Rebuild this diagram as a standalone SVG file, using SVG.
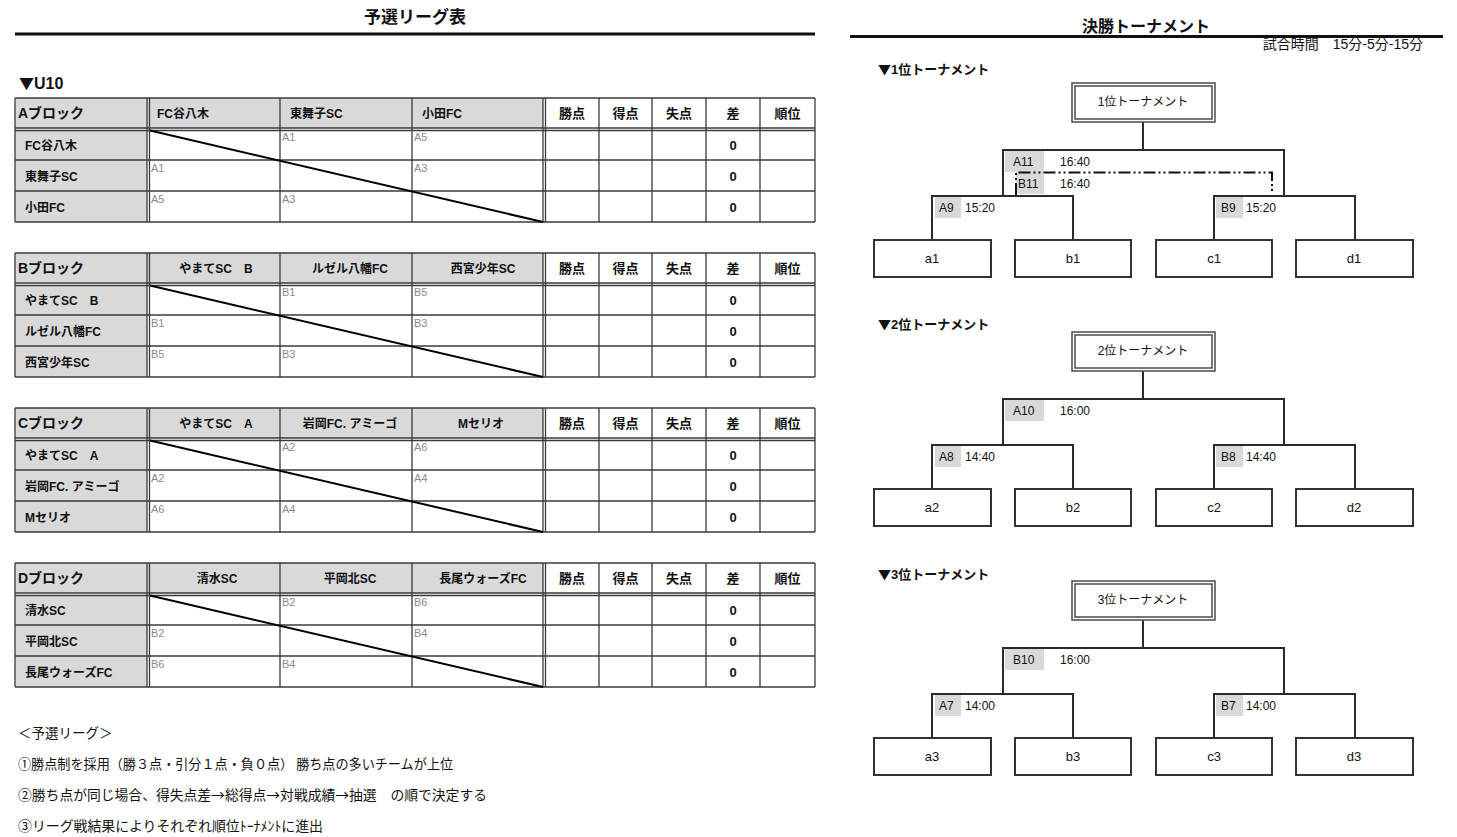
<svg xmlns="http://www.w3.org/2000/svg" xmlns:xlink="http://www.w3.org/1999/xlink" width="1457" height="837" viewBox="0 0 1457 837">
<style>
text{font-family:"Liberation Sans","Noto Sans CJK JP",sans-serif;fill:#111}
.cjk{font-family:"Noto Sans CJK JP","Liberation Sans",sans-serif}
.ttl{font-size:17px;font-weight:bold}
.blk{font-size:14px;font-weight:bold}
.tm{font-size:12px;font-weight:bold}
.tmc{font-size:12px;font-weight:bold;text-anchor:middle}
.rl{font-size:12px;font-weight:bold}
.st{font-size:13px;font-weight:bold;text-anchor:middle}
.z{font-size:13px;font-weight:bold;text-anchor:middle}
.cl{font-size:11px;fill:#8a8a8a}
.note{font-size:13.5px;font-family:"Noto Sans CJK JP","Liberation Sans",sans-serif}
.sec{font-size:13px;font-weight:bold}
.tb{font-size:12px;text-anchor:middle}
.lf{font-size:13px;text-anchor:middle}
.gl{font-size:12px}
.tg{fill:#d9d9d9}
.grid line{stroke:#3a3a3a;stroke-width:1.3}
.leaf{fill:#fff;stroke:#333;stroke-width:2}
.conn path{fill:none;stroke:#2a2a2a;stroke-width:2}
.dash{fill:none;stroke:#111;stroke-width:2;stroke-dasharray:12 3 2 3 2 3}
</style>
<defs>
<g id="grid" class="grid">
<rect class="tg" x="15" y="0" width="528" height="30"/>
<rect class="tg" x="15" y="32.5" width="132" height="91.5"/>
<line x1="15" y1="0" x2="815" y2="0"/>
<line x1="15" y1="30" x2="815" y2="30"/>
<line x1="15" y1="32.5" x2="815" y2="32.5"/>
<line x1="15" y1="62" x2="815" y2="62"/>
<line x1="15" y1="93" x2="815" y2="93"/>
<line x1="15" y1="124" x2="815" y2="124"/>
<line x1="15" y1="0" x2="15" y2="124"/>
<line x1="147" y1="0" x2="147" y2="124"/>
<line x1="149.5" y1="0" x2="149.5" y2="124"/>
<line x1="280" y1="0" x2="280" y2="124"/>
<line x1="412" y1="0" x2="412" y2="124"/>
<line x1="543" y1="0" x2="543" y2="124"/>
<line x1="545.5" y1="0" x2="545.5" y2="124"/>
<line x1="599" y1="0" x2="599" y2="124"/>
<line x1="652" y1="0" x2="652" y2="124"/>
<line x1="706" y1="0" x2="706" y2="124"/>
<line x1="760" y1="0" x2="760" y2="124"/>
<line x1="815" y1="0" x2="815" y2="124"/>
<line x1="150" y1="32.5" x2="543" y2="124" style="stroke:#000;stroke-width:2"/>
<text class="st" x="572" y="20">勝点</text>
<text class="st" x="625.5" y="20">得点</text>
<text class="st" x="679" y="20">失点</text>
<text class="st" x="733" y="20">差</text>
<text class="st" x="787.5" y="20">順位</text>
<text class="z" x="733" y="52">0</text>
<text class="z" x="733" y="83">0</text>
<text class="z" x="733" y="114">0</text>
</g>
<g id="titlebox">
<rect x="1072" y="83" width="143" height="39" fill="#fff" stroke="#555" stroke-width="1.6"/>
<rect x="1075" y="86" width="137" height="33" fill="none" stroke="#555" stroke-width="1.6"/>
</g>
</defs>

<g id="headers">
<text class="ttl" x="415" y="23" text-anchor="middle">予選リーグ表</text>
<line x1="15" y1="34" x2="815" y2="34" stroke="#111" stroke-width="3"/>
<text class="ttl" x="1146" y="32" text-anchor="middle" style="font-size:16px">決勝トーナメント</text>
<line x1="850" y1="36.5" x2="1443" y2="36.5" stroke="#111" stroke-width="3"/>
<text x="1423" y="49" text-anchor="end" style="font-size:14px">試合時間　15分-5分-15分</text>
<text x="19" y="89" style="font-size:16px;font-weight:bold"><tspan class="cjk" style="font-size:15px">▼</tspan>U10</text>
</g>

<g id="blockA" transform="translate(0,98)">
<use xlink:href="#grid"/>
<text class="blk" x="18" y="20">Aブロック</text>
<text class="tm" x="157" y="20">FC谷八木</text>
<text class="tm" x="290" y="20">東舞子SC</text>
<text class="tm" x="422" y="20">小田FC</text>
<text class="rl" x="25" y="52">FC谷八木</text>
<text class="rl" x="25" y="83">東舞子SC</text>
<text class="rl" x="25" y="114">小田FC</text>
<text class="cl" x="282" y="43">A1</text><text class="cl" x="414" y="43">A5</text>
<text class="cl" x="151" y="74">A1</text><text class="cl" x="414" y="74">A3</text>
<text class="cl" x="151" y="105">A5</text><text class="cl" x="282" y="105">A3</text>
</g>

<g id="blockB" transform="translate(0,253)">
<use xlink:href="#grid"/>
<text class="blk" x="18" y="20">Bブロック</text>
<text class="tmc" x="216" y="20">やまてSC　B</text>
<text class="tmc" x="350" y="20">ルゼル八幡FC</text>
<text class="tmc" x="483" y="20">西宮少年SC</text>
<text class="rl" x="25" y="52">やまてSC　B</text>
<text class="rl" x="25" y="83">ルゼル八幡FC</text>
<text class="rl" x="25" y="114">西宮少年SC</text>
<text class="cl" x="282" y="43">B1</text><text class="cl" x="414" y="43">B5</text>
<text class="cl" x="151" y="74">B1</text><text class="cl" x="414" y="74">B3</text>
<text class="cl" x="151" y="105">B5</text><text class="cl" x="282" y="105">B3</text>
</g>

<g id="blockC" transform="translate(0,408)">
<use xlink:href="#grid"/>
<text class="blk" x="18" y="20">Cブロック</text>
<text class="tmc" x="216" y="20">やまてSC　A</text>
<text class="tmc" x="350" y="20">岩岡FC. アミーゴ</text>
<text class="tmc" x="481" y="20">Mセリオ</text>
<text class="rl" x="25" y="52">やまてSC　A</text>
<text class="rl" x="25" y="83">岩岡FC. アミーゴ</text>
<text class="rl" x="25" y="114">Mセリオ</text>
<text class="cl" x="282" y="43">A2</text><text class="cl" x="414" y="43">A6</text>
<text class="cl" x="151" y="74">A2</text><text class="cl" x="414" y="74">A4</text>
<text class="cl" x="151" y="105">A6</text><text class="cl" x="282" y="105">A4</text>
</g>

<g id="blockD" transform="translate(0,563)">
<use xlink:href="#grid"/>
<text class="blk" x="18" y="20">Dブロック</text>
<text class="tmc" x="217" y="20">清水SC</text>
<text class="tmc" x="350" y="20">平岡北SC</text>
<text class="tmc" x="483" y="20">長尾ウォーズFC</text>
<text class="rl" x="25" y="52">清水SC</text>
<text class="rl" x="25" y="83">平岡北SC</text>
<text class="rl" x="25" y="114">長尾ウォーズFC</text>
<text class="cl" x="282" y="43">B2</text><text class="cl" x="414" y="43">B6</text>
<text class="cl" x="151" y="74">B2</text><text class="cl" x="414" y="74">B4</text>
<text class="cl" x="151" y="105">B6</text><text class="cl" x="282" y="105">B4</text>
</g>

<g id="notes">
<text class="note" x="18" y="738">＜予選リーグ＞</text>
<text class="note" x="18" y="769" textLength="435" lengthAdjust="spacingAndGlyphs">①勝点制を採用（勝３点・引分１点・負０点） 勝ち点の多いチームが上位</text>
<text class="note" x="18" y="800" textLength="469" lengthAdjust="spacingAndGlyphs">②勝ち点が同じ場合、得失点差→総得点→対戦成績→抽選　の順で決定する</text>
<text class="note" x="18" y="831" textLength="305" lengthAdjust="spacingAndGlyphs">③リーグ戦結果によりそれぞれ順位ﾄｰﾅﾒﾝﾄに進出</text>
</g>

<!-- Tournament 1 -->
<g id="t1">
<text class="sec" x="878" y="74"><tspan class="cjk">▼</tspan>1位トーナメント</text>
<g id="connectors1" class="conn">
<path d="M1143,122 V150"/>
<path d="M1003,196 V150 H1284 V196"/>
<path d="M932,240 V196 H1073 V240"/>
<path d="M1214,240 V196 H1355 V240"/>
</g>
<g id="t1-title"><use xlink:href="#titlebox"/><text class="tb" x="1143" y="106">1位トーナメント</text></g>
<g id="t1-A11"><rect class="tg" x="1005" y="151" width="39" height="21"/><text class="gl" x="1013" y="166">A11</text><text class="gl" x="1060" y="166">16:40</text></g>
<g id="t1-B11"><rect class="tg" x="1016" y="172" width="28" height="22"/><text class="gl" x="1018" y="188">B11</text><text class="gl" x="1060" y="188">16:40</text></g>
<path class="dash" d="M1016,195 V172.5 H1272 V194"/>
<g id="t1-A9"><rect class="tg" x="935" y="197" width="26" height="21"/><text class="gl" x="939" y="212">A9</text><text class="gl" x="965" y="212">15:20</text></g>
<g id="t1-B9"><rect class="tg" x="1216" y="197" width="27" height="21"/><text class="gl" x="1221" y="212">B9</text><text class="gl" x="1246" y="212">15:20</text></g>
<g id="t1-a1"><rect class="leaf" x="874" y="240" width="117" height="37"/><text class="lf" x="932" y="263">a1</text></g>
<g id="t1-b1"><rect class="leaf" x="1015" y="240" width="116" height="37"/><text class="lf" x="1073" y="263">b1</text></g>
<g id="t1-c1"><rect class="leaf" x="1156" y="240" width="116" height="37"/><text class="lf" x="1214" y="263">c1</text></g>
<g id="t1-d1"><rect class="leaf" x="1296" y="240" width="117" height="37"/><text class="lf" x="1354" y="263">d1</text></g>
</g>

<!-- Tournament 2 -->
<g id="t2" transform="translate(0,249)">
<text class="sec" x="878" y="80"><tspan class="cjk">▼</tspan>2位トーナメント</text>
<g id="connectors2" class="conn">
<path d="M1143,122 V150"/>
<path d="M1003,196 V150 H1284 V196"/>
<path d="M932,240 V196 H1073 V240"/>
<path d="M1214,240 V196 H1355 V240"/>
</g>
<g id="t2-title"><use xlink:href="#titlebox"/><text class="tb" x="1143" y="106">2位トーナメント</text></g>
<g id="t2-A10"><rect class="tg" x="1005" y="151" width="39" height="21"/><text class="gl" x="1013" y="166">A10</text><text class="gl" x="1060" y="166">16:00</text></g>
<g id="t2-A8"><rect class="tg" x="935" y="197" width="26" height="21"/><text class="gl" x="939" y="212">A8</text><text class="gl" x="965" y="212">14:40</text></g>
<g id="t2-B8"><rect class="tg" x="1216" y="197" width="27" height="21"/><text class="gl" x="1221" y="212">B8</text><text class="gl" x="1246" y="212">14:40</text></g>
<g id="t2-a2"><rect class="leaf" x="874" y="240" width="117" height="37"/><text class="lf" x="932" y="263">a2</text></g>
<g id="t2-b2"><rect class="leaf" x="1015" y="240" width="116" height="37"/><text class="lf" x="1073" y="263">b2</text></g>
<g id="t2-c2"><rect class="leaf" x="1156" y="240" width="116" height="37"/><text class="lf" x="1214" y="263">c2</text></g>
<g id="t2-d2"><rect class="leaf" x="1296" y="240" width="117" height="37"/><text class="lf" x="1354" y="263">d2</text></g>
</g>

<!-- Tournament 3 -->
<g id="t3" transform="translate(0,498)">
<text class="sec" x="878" y="81"><tspan class="cjk">▼</tspan>3位トーナメント</text>
<g id="connectors3" class="conn">
<path d="M1143,122 V150"/>
<path d="M1003,196 V150 H1284 V196"/>
<path d="M932,240 V196 H1073 V240"/>
<path d="M1214,240 V196 H1355 V240"/>
</g>
<g id="t3-title"><use xlink:href="#titlebox"/><text class="tb" x="1143" y="106">3位トーナメント</text></g>
<g id="t3-B10"><rect class="tg" x="1005" y="151" width="39" height="21"/><text class="gl" x="1013" y="166">B10</text><text class="gl" x="1060" y="166">16:00</text></g>
<g id="t3-A7"><rect class="tg" x="935" y="197" width="26" height="21"/><text class="gl" x="939" y="212">A7</text><text class="gl" x="965" y="212">14:00</text></g>
<g id="t3-B7"><rect class="tg" x="1216" y="197" width="27" height="21"/><text class="gl" x="1221" y="212">B7</text><text class="gl" x="1246" y="212">14:00</text></g>
<g id="t3-a3"><rect class="leaf" x="874" y="240" width="117" height="37"/><text class="lf" x="932" y="263">a3</text></g>
<g id="t3-b3"><rect class="leaf" x="1015" y="240" width="116" height="37"/><text class="lf" x="1073" y="263">b3</text></g>
<g id="t3-c3"><rect class="leaf" x="1156" y="240" width="116" height="37"/><text class="lf" x="1214" y="263">c3</text></g>
<g id="t3-d3"><rect class="leaf" x="1296" y="240" width="117" height="37"/><text class="lf" x="1354" y="263">d3</text></g>
</g>
</svg>
